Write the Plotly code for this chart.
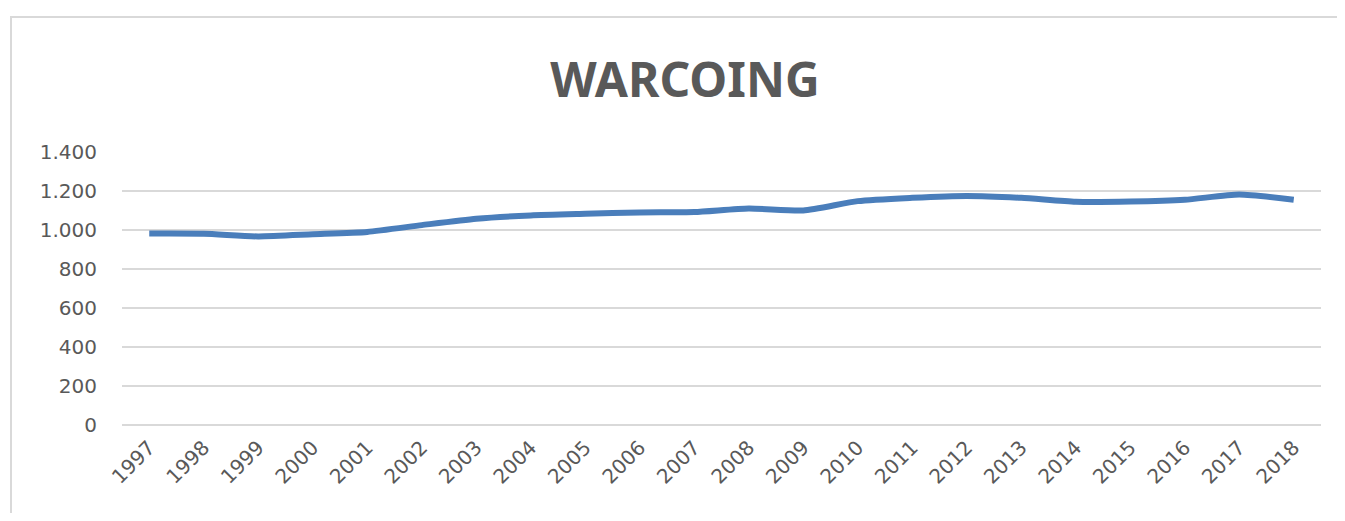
import plotly.graph_objects as go

years = [str(y) for y in range(1997, 2019)]
values = [982, 981, 967, 978, 990, 1025, 1058, 1075, 1083, 1090, 1092, 1110, 1100,
          1148, 1165, 1175, 1165, 1145, 1146, 1155, 1182, 1155]
y_ticks = [0, 200, 400, 600, 800, 1000, 1200, 1400]

# page is offset by the default 8px body margin; keep figure inside the viewport
OFF = 8
W, H = 1345 - 2 * OFF, 521 - 2 * OFF
L, T = 122 - OFF, 152 - OFF
R = (1345 - OFF) - 1321      # plot right edge at page x=1321
B = (521 - OFF) - 425        # plot bottom at page y=425
pw, ph = W - L - R, H - T - B

def px_x(x):
    return (x - OFF - L) / pw

def px_y(y):
    return (H - B - (y - OFF)) / ph

fig = go.Figure()
fig.add_trace(go.Scatter(
    x=years, y=values, mode="lines",
    line=dict(color="#4A7EBB", width=6, shape="spline", smoothing=0.6),
    hoverinfo="x+y", showlegend=False,
))

fig.update_layout(
    width=W, height=H,
    margin=dict(l=L, r=R, t=T, b=B),
    paper_bgcolor="white", plot_bgcolor="white",
    separators=",.",
    font=dict(family="DejaVu Sans, sans-serif", color="#595959", size=20),
    title=dict(text="<b>WARCOING</b>", x=px_x(685), xanchor="center", xref="paper",
               y=1 - (80 - OFF) / H, yanchor="middle",
               font=dict(size=48, color="#595959", family="Noto Sans, sans-serif")),
    xaxis=dict(type="category", tickangle=-45, showgrid=False, showline=False,
               range=[-0.5, len(years) - 0.5], ticklabelstandoff=6,
               ticks="", zeroline=False, tickfont=dict(size=20, color="#595959")),
    yaxis=dict(range=[0, 1400], tickvals=y_ticks, tickformat=",d", showgrid=True,
               gridcolor="#D9D9D9", gridwidth=1.5, zeroline=True, zerolinecolor="#D9D9D9",
               zerolinewidth=1.5, showline=False, ticks="", ticklabelstandoff=24,
               tickfont=dict(size=20, color="#595959")),
    shapes=[dict(type="rect", xref="paper", yref="paper",
                 x0=px_x(11), x1=px_x(1420), y0=px_y(560), y1=px_y(17),
                 line=dict(color="#D9D9D9", width=2), fillcolor="rgba(0,0,0,0)", layer="below")],
)

fig.write_html("out.html")
